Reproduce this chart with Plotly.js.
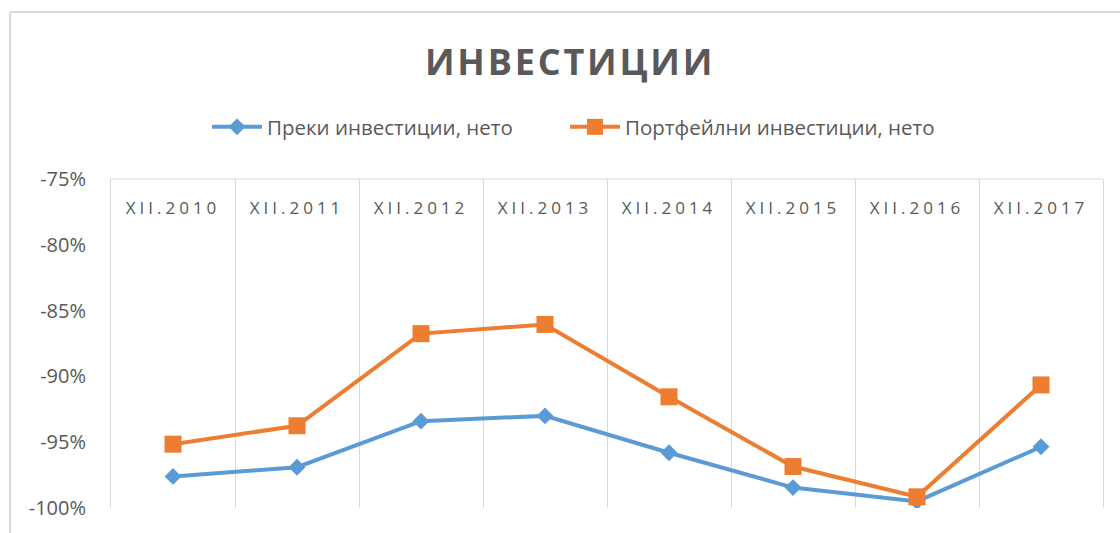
<!DOCTYPE html>
<html>
<head>
<meta charset="utf-8">
<script src="https://cdn.plot.ly/plotly-3.0.1.min.js"></script>
<style>html,body{margin:0;padding:0;background:#fff;}#chart{width:1120px;height:533px;}</style>
</head>
<body>
<div id="chart"></div>
<script>
var categories = ['XII.2010','XII.2011','XII.2012','XII.2013','XII.2014','XII.2015','XII.2016','XII.2017'];
var seriesNames = ['Преки инвестиции, нето','Портфейлни инвестиции, нето'];
var directNet = [-97.6, -96.9, -93.4, -93.0, -95.8, -98.45, -99.5, -95.35];
var portfolioNet = [-95.15, -93.75, -86.75, -86.05, -91.55, -96.85, -99.15, -90.65];
var yTicks = [-100, -95, -90, -85, -80, -75];
var yTickLabels = ['-100%', '-95%', '-90%', '-85%', '-80%', '-75%'];
var titleText = 'ИНВЕСТИЦИИ';

var FONT = 'Open Sans, Liberation Sans, sans-serif';
var GRAY = '#595959';
var GRID = '#d9d9d9';

var traces = [
  {x: categories, y: directNet, name: seriesNames[0], type: 'scatter', mode: 'lines+markers', legend: 'legend',
   line: {color: '#5b9bd5', width: 4}, marker: {symbol: 'diamond', size: 13, color: '#5b9bd5'}},
  {x: categories, y: portfolioNet, name: seriesNames[1], type: 'scatter', mode: 'lines+markers', legend: 'legend2',
   line: {color: '#ed7d31', width: 4}, marker: {symbol: 'square', size: 17, color: '#ed7d31'}}
];

var legendFont = {size: 20.5, color: GRAY, family: FONT};
var layout = {
  width: 1120, height: 533,
  paper_bgcolor: '#fff', plot_bgcolor: '#fff',
  margin: {l: 111, r: 17, t: 179, b: 25},
  font: {family: FONT, color: GRAY},
  title: {text: '<b><span style="letter-spacing:2.8px">' + titleText + '</span></b>',
          x: 0.509, xanchor: 'center', y: 0.882, yanchor: 'middle', yref: 'container',
          font: {size: 36, color: GRAY, family: FONT}},
  showlegend: true,
  legend: {orientation: 'h', x: 0.0968, xanchor: 'left', y: 1.158, yanchor: 'middle',
           font: legendFont, itemwidth: 50, bgcolor: 'rgba(0,0,0,0)'},
  legend2: {orientation: 'h', x: 0.4577, xanchor: 'left', y: 1.158, yanchor: 'middle',
           font: legendFont, itemwidth: 50, bgcolor: 'rgba(0,0,0,0)'},
  xaxis: {type: 'category', side: 'bottom', anchor: 'free', position: 0.985,
          range: [-0.5, 7.5], showline: false,
          showgrid: true, gridcolor: GRID, gridwidth: 1, tickson: 'boundaries', ticks: '',
          tickvals: categories,
          ticktext: categories.map(function(c){return '<span style="letter-spacing:4px">' + c + '</span>';}),
          ticklabelstandoff: 12,
          tickfont: {size: 17, color: GRAY, family: FONT}, zeroline: false, fixedrange: true, automargin: false},
  yaxis: {range: [-100, -75], tickmode: 'array', tickvals: yTicks, ticktext: yTickLabels,
          showgrid: false, zeroline: false,
          showline: true, mirror: true, linecolor: GRID, linewidth: 1, ticks: '', ticklabelstandoff: 20,
          tickfont: {size: 20, color: GRAY, family: FONT}, fixedrange: true, automargin: false},
  shapes: [
    {type: 'line', xref: 'paper', yref: 'paper', x0: 0, x1: 1, y0: 1, y1: 1, line: {color: GRID, width: 1}},
    {type: 'line', xref: 'paper', yref: 'paper', x0: -0.1017, x1: 1.02, y0: 1.5076, y1: 1.5076, line: {color: GRID, width: 2}},
    {type: 'line', xref: 'paper', yref: 'paper', x0: -0.1017, x1: -0.1017, y0: 1.5076, y1: -0.1, line: {color: GRID, width: 2}}
  ]
};

Plotly.newPlot('chart', traces, layout, {displayModeBar: false, staticPlot: true});
</script>
</body>
</html>
